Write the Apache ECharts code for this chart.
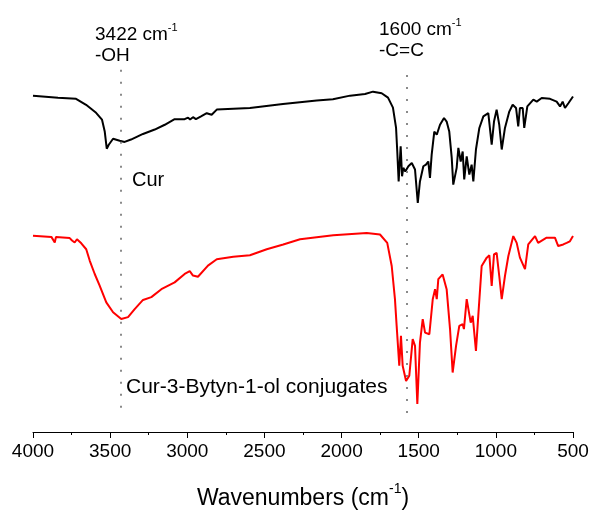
<!DOCTYPE html>
<html>
<head>
<meta charset="utf-8">
<script src="https://cdn.jsdelivr.net/npm/echarts@6/dist/echarts.min.js"></script>
<style>
html,body{margin:0;padding:0;background:#fff;}
#chart{width:592px;height:515px;}
</style>
</head>
<body>
<div id="chart"></div>
<script>
// Wavenumbers (cm-1) and transmittance (a.u.)
var curWavenumbers = [4000,3838,3721,3656,3591,3553,3535,3522,3509,3481,3438,3406,3365,3287,3211,3146,3082,3017,2995,2982,2963,2944,2911,2874,2842,2809,2594,2380,2161,2056,1945,1848,1796,1740,1699,1667,1647,1639,1630,1617,1608,1600,1587,1567,1545,1524,1506,1492,1470,1453,1438,1427,1416,1399,1383,1362,1336,1319,1302,1286,1276,1254,1243,1228,1215,1205,1189,1172,1157,1146,1129,1120,1107,1081,1049,1027,1012,995,978,962,941,913,891,869,855,844,826,816,796,757,735,703,649,606,584,567,552,530,500];
var curValues = [84.3,83.8,83.5,82,80,78.3,75.3,71,72,73.5,73,72.7,73.3,74.7,75.8,77,78.4,78.4,78.8,78.3,78.9,78.4,79.1,79.9,79.5,80.8,81.2,82.2,83.1,83.4,84.3,84.7,85.3,84.9,83.8,81.3,76.3,70.3,62.8,71.6,64.1,66.2,65.3,66.6,67.4,65.8,57.4,62.8,66.6,67,67.8,63.7,69.5,75.3,74.5,77,78.7,77.8,75.3,68.7,62,66.2,71.2,67.8,70.3,63.3,69.1,64.5,67,62.8,70.8,70.3,76.2,79.1,79.9,72,77.8,80.8,77,70.8,76.2,80.3,82,81.2,76.6,81.2,81.2,76.2,81.6,83.3,82.8,83.7,83.5,82.8,81.6,82.8,81.2,82.4,84.1];

var conjWavenumbers = [4000,3881,3859,3851,3762,3747,3730,3715,3687,3655,3632,3600,3568,3525,3481,3428,3384,3341,3287,3233,3168,3082,3017,2984,2963,2931,2866,2809,2702,2594,2485,2378,2269,2054,1837,1751,1704,1675,1654,1643,1626,1615,1604,1582,1561,1539,1524,1509,1492,1474,1459,1431,1409,1394,1383,1373,1345,1319,1297,1280,1258,1237,1215,1207,1189,1179,1163,1150,1129,1114,1092,1059,1042,1027,1012,995,978,962,941,919,887,865,844,833,811,790,746,726,671,617,596,563,541,520,500];
var conjValues = [49.2,48.9,47.5,48.9,48.6,48,47.5,48.3,47.3,45.8,42.9,39.6,36.7,32.5,30,28.3,28.8,30.8,33.1,33.8,35.8,37.5,39.6,40.3,39.2,38.9,41.7,43.3,43.9,44.3,45.8,47,48.3,49.3,49.9,49.5,47.4,41.6,33.3,26.6,16.6,24.1,16.6,12.8,14.1,23.3,21.6,7,22.4,28.3,24.9,24.5,33.3,35.8,33.3,38.3,39.5,35.8,25.8,14.9,21.6,26.6,27,25.8,33.3,33.7,27.4,29.1,20.3,29.1,41.6,43.7,44.3,36.6,44.5,44.9,39.1,33.3,39.1,44.1,49.1,47.4,43.7,43.3,40.8,47,49.1,47.4,48.7,48.7,46.6,47,47.4,47.8,49.1];

// dotted guide lines: position (cm-1) and vertical extent (a.u.)
var guidePositions = [3430, 1577];
var guideTops = [90.8, 89.5];
var guideBottoms = [5.8, 4.5];

var seriesNames = ['Cur', 'Cur-3-Bytyn-1-ol conjugates'];
var xTickInterval = 500;

function pairs(xs, ys){ return xs.map(function(x,i){ return [x, ys[i]]; }); }

var chart = echarts.init(document.getElementById('chart'), null, {renderer:'canvas'});
var FONT = 'Liberation Sans, Arial, sans-serif';

var guideData = guidePositions.map(function(p,i){
  return [{coord:[p, guideTops[i]]},{coord:[p, guideBottoms[i]]}];
});

chart.setOption({
  backgroundColor:'#ffffff',
  animation:false,
  grid:{left:33, right:19, top:33, bottom:82, containLabel:false},
  xAxis:{
    type:'value', inverse:true, min:500, max:4000, interval:xTickInterval,
    axisLine:{show:true, onZero:false, lineStyle:{color:'#000', width:1}},
    axisTick:{show:true, inside:false, length:6, lineStyle:{color:'#000', width:1}},
    minorTick:{show:true, splitNumber:2, length:3, lineStyle:{color:'#000', width:1}},
    splitLine:{show:false},
    axisLabel:{color:'#000', fontFamily:FONT, fontSize:19, margin:10,
      formatter:function(v){ return String(v); }},
    name:'{a|Wavenumbers (cm}{s|-1}{a|)}',
    nameLocation:'middle', nameGap:50,
    nameTextStyle:{
      color:'#000', fontFamily:FONT,
      rich:{
        a:{fontSize:23, fontFamily:FONT, color:'#000', lineHeight:28, verticalAlign:'bottom'},
        s:{fontSize:14, fontFamily:FONT, color:'#000', lineHeight:14, verticalAlign:'top'}
      }
    }
  },
  yAxis:{type:'value', min:0, max:100, show:false, splitLine:{show:false}},
  series:[
    {
      name:seriesNames[0], type:'line', data:pairs(curWavenumbers, curValues),
      showSymbol:false, symbol:'none', smooth:false,
      lineStyle:{color:'#000', width:2}, z:3,
      markLine:{
        silent:true, symbol:['none','none'], label:{show:false},
        lineStyle:{color:'#8a8a8a', width:2, type:[2,10]},
        data:guideData
      }
    },
    {
      name:seriesNames[1], type:'line', data:pairs(conjWavenumbers, conjValues),
      showSymbol:false, symbol:'none', smooth:false,
      lineStyle:{color:'#ff0000', width:2}, z:3
    }
  ],
  graphic:[
    {type:'text', left:95, top:22, style:{text:'{a|3422 cm}{s|-1}', fill:'#000',
      rich:{a:{fontSize:19, fontFamily:FONT, fill:'#000', lineHeight:22, verticalAlign:'bottom'}, s:{fontSize:11, fontFamily:FONT, fill:'#000', lineHeight:11, verticalAlign:'top'}}}},
    {type:'text', left:95, top:46, style:{text:'-OH', fill:'#000', fontSize:19, fontFamily:FONT}},
    {type:'text', left:379, top:17, style:{text:'{a|1600 cm}{s|-1}', fill:'#000',
      rich:{a:{fontSize:19, fontFamily:FONT, fill:'#000', lineHeight:22, verticalAlign:'bottom'}, s:{fontSize:11, fontFamily:FONT, fill:'#000', lineHeight:11, verticalAlign:'top'}}}},
    {type:'text', left:379, top:41, style:{text:'-C=C', fill:'#000', fontSize:19, fontFamily:FONT}},
    {type:'text', left:132, top:170, style:{text:seriesNames[0], fill:'#000', fontSize:20, fontFamily:FONT}},
    {type:'text', left:126, top:377, style:{text:seriesNames[1], fill:'#000', fontSize:21, fontFamily:FONT}}
  ]
});
</script>
</body>
</html>
